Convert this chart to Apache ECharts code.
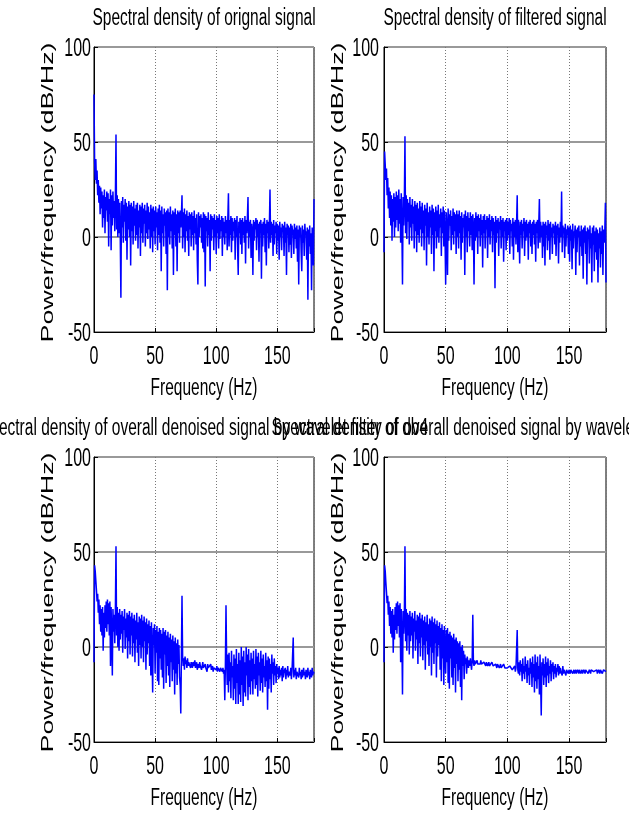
<!DOCTYPE html>
<html>
<head>
<meta charset="utf-8">
<script src="https://cdn.jsdelivr.net/npm/echarts@6/dist/echarts.min.js"></script>
<style>
html,body{margin:0;padding:0;background:#fff;}
#c{width:629px;height:818px;}
</style>
</head>
<body>
<div id="c"></div>
<script>
// ---------- data ----------
const freqStep = 0.5; // Hz between spectral bins (0 .. 180 Hz)
const xTicks = [0, 50, 100, 150];
const yTicks = [-50, 0, 50, 100];

const titles = [
  'Spectral density of orignal signal',
  'Spectral density of filtered signal',
  'Spectral density of overall denoised signal by wavelet filter of db4',
  'Spectral density of overall denoised signal by wavelet packet db4'
];
const xName = 'Frequency (Hz)';
const yName = 'Power/frequency (dB/Hz)';

const psdOriginal = [
  75, 40, 30, 41, 28, 35, 22, 30, 18, 27, 12, 26, 15, 24, 5, 22, 10, 25, 2, 21,
  14, 24, 8, 23, -5, 20, 12, 25, -7, 22, 6, 24, 10, 19, 3, 21, 54, 4, 22, 0,
  20, 2, 18, -1, -32, 19, 5, 21, -3, 17, 8, 20, -2, 18, -12, 16, 4, 19, 0, 17,
  -15, 18, 3, 16, -4, 19, 6, 15, -2, 17, 1, 18, -6, 14, 5, 17, -10, 16, 2, 18,
  -3, 15, 7, 17, -5, 14, 2, 18, -1, 16, 4, 13, -6, 17, 0, 15, -8, 16, 3, 14,
  -4, 16, 5, 13, -7, 15, 1, 17, -3, 14, -18, 16, 2, 12, -5, 15, 6, 13, -9, 14,
  -28, 15, 0, 13, -4, 16, 3, 12, -6, 14, -20, 13, 1, 15, -5, 12, -18, 14, 2, 13,
  -3, 14, 5, 11, 22, -6, 13, 0, 15, -8, 12, 3, 14, -2, 11, -10, 13, 4, 12, -5,
  13, 1, 11, -7, 14, 2, 10, -4, 12, -12, -25, 13, 0, 11, 5, 12, -3, 10, -6, 13,
  -8, 12, -26, 11, 3, 10, -5, 13, 1, 9, -18, 12, -2, 11, 4, 10, -7, 12, 0, 9,
  -9, 11, 2, 10, -6, 12, -1, 9, 3, 11, -10, 10, 0, 8, -4, 11, 2, 9, -7, 10,
  23, -5, 9, 1, 11, -8, 10, -2, 8, 3, 10, -12, 9, 0, 11, -6, -20, 8, 2, 10,
  -4, 9, -9, 10, 1, 8, -3, 11, -14, 9, 2, 10, 21, -6, 8, 0, 9, -11, 7, 3,
  -20, 9, -2, 8, 4, 10, -7, 9, 0, 7, -13, 8, 3, 9, -22, 7, -5, 8, 1, 10,
  -8, 7, -15, 9, 2, 8, -6, 6, 25, -3, 8, 1, 7, -10, 9, -4, 6, 2, 8, -9,
  7, -2, 6, -12, 8, 0, 5, -7, 7, 3, 6, -10, 8, -3, 5, -20, 7, 1, 6, -8,
  5, -4, 7, -11, 6, 2, 4, -9, 7, -1, 5, -6, 6, -13, 4, -25, 6, 0, 5, -8,
  -18, 6, -3, 4, -10, 7, 1, 3, -12, 5, -33, 4, -5, 6, -9, 2, -28, 5, -4, -15,
  20
];

const psdFiltered = [
  -8, 45, 38, 30, 36, 22, 31, 15, 26, 10, 24, 6, 22, -2, 20, 8, 23, 0, 21, 5,
  24, 9, 22, 3, 25, 7, 20, -3, 23, 4, -25, 21, 6, 19, 53, 2, 22, -1, 20, 8,
  18, -4, 21, 5, 17, -2, 20, 7, 16, -6, 19, 3, 17, -8, 18, 1, 15, -3, 19, 4,
  16, -5, 18, 2, 14, -7, 17, 6, 15, -15, 18, 0, 13, -4, 16, 5, 14, -9, 17, 1,
  15, -18, 13, 3, 16, -6, 14, 0, 17, -3, 12, 5, 15, -10, 13, 2, 16, -5, 14, -1,
  -25, 13, 4, -20, 15, -2, 12, 6, 14, -7, 11, 1, 15, -4, 13, 3, 12, -9, 14, 0,
  12, -6, 14, 2, 11, -12, 13, -3, 10, 5, 12, -20, 14, 0, 11, -8, 13, 3, 10, -5,
  13, 1, 11, -7, 12, 4, -25, 10, -2, 13, 0, 11, -9, 12, 3, 10, -5, 12, 1, 9,
  -16, 11, 2, 12, -6, 9, 4, 11, -11, 10, 0, 12, -4, 9, 3, 11, -8, 10, 1, 8,
  -27, 11, -3, 9, 2, 10, -10, 8, 4, 11, -6, 9, 0, 10, -13, 8, 3, 9, -7, 10,
  -2, 8, 1, 10, -9, 9, 3, 7, -5, 10, -12, 8, 0, 9, -4, 7, 22, -8, 9, 2,
  -14, 8, 1, 9, -6, 7, 3, 10, -10, 8, -2, 9, 0, 7, -12, 8, 2, 9, -5, 7,
  -9, 8, 1, 9, -4, 7, -13, 8, 2, 9, -6, 7, 20, -3, 8, 0, 6, -11, 8, -5,
  7, -15, 8, 1, 6, -7, 9, -2, 7, -12, 8, 0, 5, -9, 7, 2, 6, -4, 8, -10,
  6, 1, 7, -14, 5, -3, 8, 0, 24, -8, 6, 2, 5, -11, 7, -5, 4, 1, 6, -9,
  5, -13, 6, -2, 4, -17, 7, -6, 3, 1, 6, -20, 4, -8, 5, 0, 6, -15, 3, -5,
  6, -10, 4, -22, 5, -3, 6, -9, 3, -25, 5, -1, 4, -14, 6, -6, 2, -24, 5, -4,
  6, -18, 3, -8, 5, -12, 4, -24, 2, -6, 5, -16, 3, -9, 6, -20, 4, -3, 2, 18,
  -24
];

const psdDenoised = [
  -8, 43, 40, 35, 30, 24, 28, 18, 25, 12, 22, 8, 20, 6, 21, -2, 18, 5, 22, 10,
  24, 8, 25, 12, 23, 6, 24, -10, 21, 5, -15, 20, 8, 17, 2, 19, 53, 6, 21, 0,
  18, -2, 20, 4, 17, 7, 19, -3, 16, 9, 20, -1, 15, 5, 18, -6, 17, 3, 19, -4,
  16, 6, 18, -5, 15, 2, 17, -8, 14, 4, 18, -3, 13, -10, 16, 1, 15, -6, 17, 0,
  14, -8, 16, 3, 13, -12, 15, -4, 12, 2, 14, -10, 11, -15, 13, -5, -24, 10, 1, 12,
  -14, 9, -3, 11, -18, 8, -20, 10, -6, 9, -12, 7, -16, 10, -22, 8, -4, 9, -19, 6,
  -10, 8, -15, 5, -21, 7, -8, 4, -18, 6, -12, 3, -25, 5, -14, 2, -20, 4, -9, 1,
  -16, -20, -35, -6, 27, -5, -10, -6, -12, -5, -9, -7, -11, -6, -10, -8, -7, -9, -11, -8,
  -9, -11, -8, -10, -9, -7, -11, -10, -8, -12, -9, -10, -11, -8, -10, -9, -12, -10, -8, -11,
  -10, -12, -9, -11, -10, -13, -9, -11, -12, -10, -11, -9, -12, -11, -10, -13, -11, -12, -10, -11,
  -12, -10, -13, -11, -12, -10, -13, -11, -12, -10, -13, -11, -14, -12, -28, -10, 22, -6, -20, -4,
  -24, -3, -18, -8, -27, -2, -16, -10, -28, -4, -22, -6, -30, -1, -19, -9, -30, -3, -25, -7,
  -29, 0, -20, -5, -31, -2, -24, -8, -26, 0, -15, -4, -28, -1, -21, -7, -25, -3, -18, -6,
  -25, -2, -17, -9, -22, -1, -20, -5, -26, -3, -15, -8, -23, -2, -19, -6, -24, -4, -16, -10,
  -21, -3, -18, -7, -33, -5, -22, -6, -17, -9, -24, -4, -14, -8, -20, -6, -15, -10, -19, -9,
  -14, -11, -17, -10, -16, -12, -15, -11, -18, -10, -16, -13, -14, -11, -17, -12, -15, -10, -16, -13,
  -12, -15, -11, -17, -13, -14, 5, -16, -12, -15, -11, -17, -13, -14, -12, -16, -11, -15, -13, -17,
  -12, -16, -14, -11, -15, -13, -17, -12, -14, -16, -11, -15, -13, -17, -12, -14, -16, -11, -15, -13,
  -14
];

const psdWavelet = [
  -8, 43, 40, 34, 29, 23, 27, 17, 24, 11, 21, 7, 19, 5, 20, -3, 17, 4, 21, 9,
  23, 7, 24, 11, 22, 5, 23, -8, 20, 4, -25, 19, 7, 16, 53, 3, 20, -2, 18, 6,
  17, -4, 19, 3, 16, 6, 18, -6, 15, 8, 19, -2, 14, 4, 17, -9, 16, 2, 18, -5,
  15, 5, 17, -7, 14, 1, 16, -12, 13, 3, 17, -4, 12, -10, 15, 0, 14, -15, 16, -3,
  13, -9, 15, 2, 12, -16, 14, -5, 11, 1, 13, -12, 10, -18, 12, -6, 9, -20, 11, -2,
  -14, 9, -8, 10, -19, 7, -22, 8, -6, 6, -16, 5, -20, 7, -11, 4, -24, 5, -9, 3,
  -18, 2, -12, 3, -21, 0, -28, 1, -10, -2, -17, -4, -9, -6, -14, -5, -8, -11, -7, -10,
  -6, -9, -12, -7, 17, -8, -10, -7, -9, -8, -10, -7, -9, -8, -8, -10, -9, -7, -9, -8,
  -9, -10, -8, -9, -9, -10, -8, -9, -10, -9, -8, -10, -9, -9, -10, -8, -9, -10, -9, -10,
  -10, -9, -10, -11, -9, -10, -10, -11, -10, -9, -11, -10, -10, -11, -9, -10, -11, -10, -11, -10,
  -11, -10, -11, -12, -10, -11, -11, -10, -12, -11, -11, -12, -10, -13, -11, -12, 9, -12, -14, -8,
  -15, -7, -13, -9, -18, -6, -14, -10, -17, -5, -13, -9, -19, -7, -15, -11, -20, -6, -14, -8,
  -21, -5, -16, -9, -24, -4, -18, -8, -22, -5, -17, -10, -25, -4, -19, -36, -8, -15, -6, -20,
  -9, -16, -5, -21, -8, -15, -6, -19, -10, -14, -7, -18, -9, -13, -8, -17, -10, -14, -9, -16,
  -11, -13, -9, -15, -10, -14, -11, -13, -12, -15, -10, -14, -12, -13, -11, -15, -12, -13, -11, -14,
  -12, -13, -14, -12, -13, -11, -14, -13, -12, -14, -13, -12, -14, -13, -12, -13, -14, -12, -13, -14,
  -13, -12, -14, -13, -12, -13, -14, -12, -13, -13, -12, -14, -13, -12, -13, -14, -12, -13, -13, -12,
  -13, -14, -12, -13, -13, -12, -14, -13, -12, -13, -14, -12, -13, -12, -14, -13, -12, -13, -13, -12,
  -13
];

const panels = [psdOriginal, psdFiltered, psdDenoised, psdWavelet];

// ---------- layout / style ----------
const grids = [
  {left: 94, top: 47, width: 220, height: 285},
  {left: 384, top: 47, width: 222, height: 285},
  {left: 94, top: 457, width: 220, height: 285},
  {left: 384, top: 457, width: 222, height: 285}
];
const textFont = "'Liberation Sans', Arial, sans-serif";
const STRETCH = 1.6;

const chart = echarts.init(document.getElementById('c'));

const option = {
  animation: false,
  backgroundColor: '#fff',
  grid: grids.map(g => Object.assign({show: true, borderColor: '#000', borderWidth: 1, backgroundColor: 'transparent'}, g)),
  xAxis: grids.map((g, i) => ({
    gridIndex: i, type: 'value', min: 0, max: 180, interval: 50,
    axisLine: {show: true, onZero: false, lineStyle: {color: '#000', width: 1}},
    axisTick: {show: true, inside: true, length: 4, lineStyle: {color: '#000'}},
    axisLabel: {show: false},
    splitLine: {show: true, lineStyle: {color: '#777', width: 1, type: [1, 2]}}
  })),
  yAxis: grids.map((g, i) => ({
    gridIndex: i, type: 'value', min: -50, max: 100, interval: 50,
    axisLine: {show: true, onZero: false, lineStyle: {color: '#000', width: 1}},
    axisTick: {show: true, inside: true, length: 4, lineStyle: {color: '#000'}},
    axisLabel: {show: false},
    splitLine: {show: true, lineStyle: {color: '#999', width: 2}}
  })),
  series: panels.map((vals, i) => ({
    type: 'line', xAxisIndex: i, yAxisIndex: i,
    data: vals.map((v, k) => [k * freqStep, v]),
    showSymbol: false, symbol: 'none',
    lineStyle: {color: '#0000ff', width: 1.5},
    clip: true, silent: true
  }))
};

function txt(text, x, y, opts) {
  opts = opts || {};
  const align = opts.align || 'center';
  return Object.assign({
    type: 'text', x: x, y: y, silent: true, z: 100,
    style: {
      text: text, fill: '#000', font: opts.font || ('15.5px ' + textFont),
      align: align, verticalAlign: 'middle', textAlign: align, textVerticalAlign: 'middle'
    }
  }, opts.el);
}

chart.setOption(option);

// text drawn with the figure's vertical stretch; tick label positions come from the axes
const graphics = [];
grids.forEach((g, i) => {
  const cx = g.left + g.width / 2;
  graphics.push(txt(titles[i], cx, g.top - 29, {el: {scaleY: STRETCH}}));
  graphics.push(txt(xName, cx, g.top + g.height + 56, {el: {scaleY: STRETCH}}));
  graphics.push(txt(yName, g.left - 46, g.top + g.height / 2 + 3,
    {font: '17px ' + textFont, el: {rotation: Math.PI / 2, scaleX: 1.58}}));
  const yBase = chart.convertToPixel({yAxisIndex: i}, -50);
  xTicks.forEach(v => {
    const px = chart.convertToPixel({xAxisIndex: i}, v);
    graphics.push(txt(String(v), px, yBase + 25, {font: '16px ' + textFont, el: {scaleY: STRETCH}}));
  });
  const xBase = chart.convertToPixel({xAxisIndex: i}, 0);
  yTicks.forEach(v => {
    const py = chart.convertToPixel({yAxisIndex: i}, v);
    graphics.push(txt(String(v), xBase - (i % 2 === 0 ? 3 : 5), py + 2,
      {font: '16px ' + textFont, align: 'right', el: {scaleY: STRETCH}}));
  });
});
chart.setOption({graphic: graphics});
</script>
</body>
</html>
